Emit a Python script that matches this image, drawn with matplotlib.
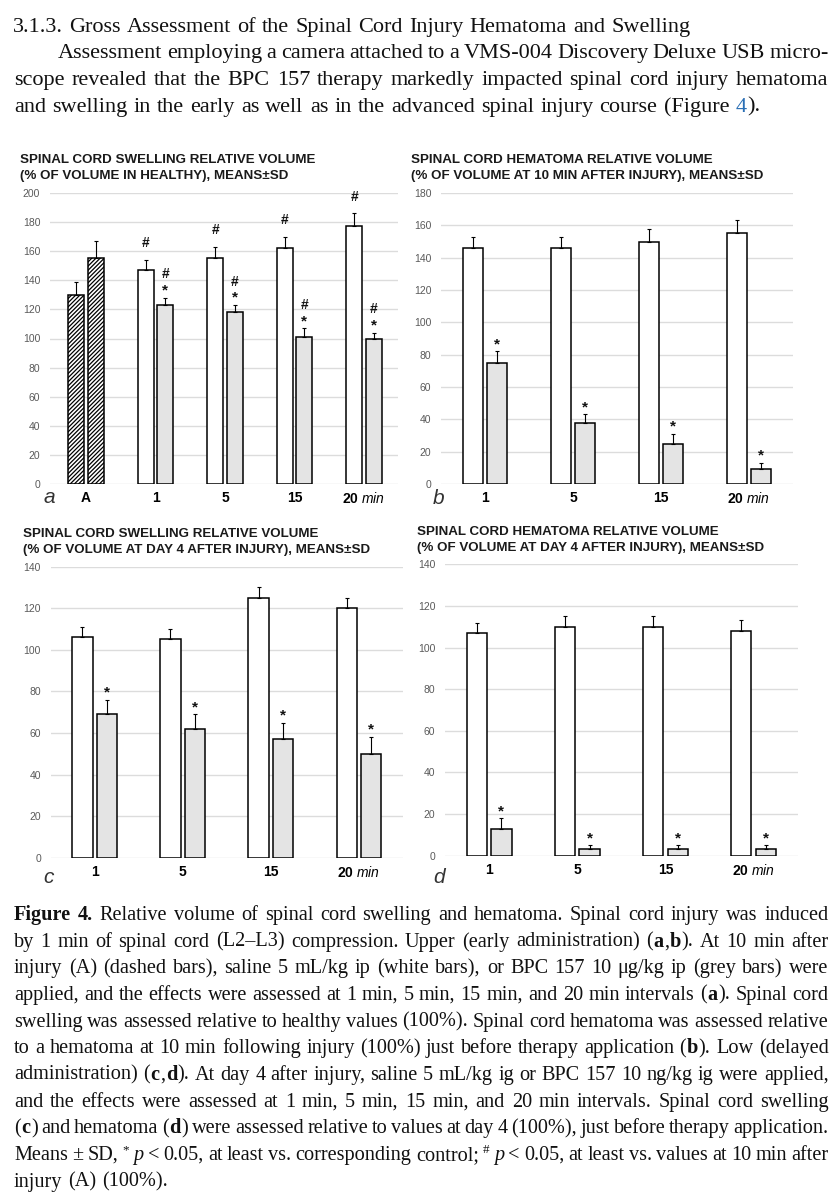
import matplotlib.pyplot as plt
import numpy as np

plt.rcParams['font.family'] = ['Liberation Sans', 'DejaVu Sans']
plt.rcParams['mathtext.fontset'] = 'custom'
plt.rcParams['mathtext.rm'] = 'Liberation Sans'
plt.rcParams['mathtext.it'] = 'Liberation Sans:italic'
plt.rcParams['hatch.linewidth'] = 0.9

W, H = 839, 1200

# ---- data ----
times = ['1', '5', '15', '20 $\\mathit{min}$']

# a: swelling, early administration (% of healthy)
a_injury = [130, 155]
a_injury_sd = [9, 12]
a_saline = [147, 155, 162, 177]
a_saline_sd = [7, 8, 8, 9]
a_bpc = [123, 118, 101, 100]
a_bpc_sd = [5, 5, 6, 4]

# b: hematoma, early administration (% of 10 min after injury)
b_saline = [146, 146, 150, 155]
b_saline_sd = [7, 7, 8, 8]
b_bpc = [75, 38, 25, 9]
b_bpc_sd = [7, 5, 6, 4]

# c: swelling, delayed administration (% of day 4)
c_saline = [106, 105, 125, 120]
c_saline_sd = [5, 5, 5, 5]
c_bpc = [69, 62, 57, 50]
c_bpc_sd = [7, 7, 8, 8]

# d: hematoma, delayed administration (% of day 4)
d_saline = [107, 110, 110, 108]
d_saline_sd = [5, 5, 5, 5]
d_bpc = [13, 3, 3, 3]
d_bpc_sd = [5, 2, 2, 2]

heading = [("3.1.3. Gross Assessment of the Spinal Cord Injury Hematoma and Swelling", '')]
para = [
    [("Assessment employing a camera attached to a VMS-004 Discovery Deluxe USB micro-", '')],
    [("scope revealed that the BPC 157 therapy markedly impacted spinal cord injury hematoma", '')],
    [("and swelling in the early as well as in the advanced spinal injury course (Figure ", ''),
     ("4", 'blue'), (").", '')],
]
caption = [
    [("Figure 4.", 'b'), (" Relative volume of spinal cord swelling and hematoma. Spinal cord injury was induced", '')],
    [("by 1 min of spinal cord (L2–L3) compression. Upper (early administration) (", ''), ("a", 'b'),
     (",", ''), ("b", 'b'), ("). At 10 min after", '')],
    [("injury (A) (dashed bars), saline 5 mL/kg ip (white bars), or BPC 157 10 μg/kg ip (grey bars) were", '')],
    [("applied, and the effects were assessed at 1 min, 5 min, 15 min, and 20 min intervals (", ''),
     ("a", 'b'), ("). Spinal cord", '')],
    [("swelling was assessed relative to healthy values (100%). Spinal cord hematoma was assessed relative", '')],
    [("to a hematoma at 10 min following injury (100%) just before therapy application (", ''),
     ("b", 'b'), ("). Low (delayed", '')],
    [("administration) (", ''), ("c", 'b'), (",", ''), ("d", 'b'),
     ("). At day 4 after injury, saline 5 mL/kg ig or BPC 157 10 ng/kg ig were applied,", '')],
    [("and the effects were assessed at 1 min, 5 min, 15 min, and 20 min intervals. Spinal cord swelling", '')],
    [("(", ''), ("c", 'b'), (") and hematoma (", ''), ("d", 'b'),
     (") were assessed relative to values at day 4 (100%), just before therapy application.", '')],
    [("Means ± SD, ", ''), ("*", 'sup'), (" ", ''), ("p", 'i'),
     (" < 0.05, at least vs. corresponding control; ", ''), ("#", 'sup'), (" ", ''), ("p", 'i'),
     (" < 0.05, at least vs. values at 10 min after", '')],
    [("injury (A) (100%).", '')],
]

SERIF = 'Liberation Serif'


def style_kw(st, size):
    kw = dict(family=SERIF, fontsize=size, color='#111111', va='baseline', ha='left')
    if st == 'b':
        kw['fontweight'] = 'bold'
    elif st == 'i':
        kw['fontstyle'] = 'italic'
    elif st == 'blue':
        kw['color'] = '#2a6fb5'
    elif st == 'sup':
        kw['fontsize'] = size * 0.65
    return kw


def draw_line(fig, rend, runs, x0, y, x1=None, size=15):
    # split runs into words, justify if x1 given
    words = [[]]
    for txt, st in runs:
        for k, part in enumerate(txt.split(' ')):
            if k > 0:
                words.append([])
            if part:
                words[-1].append((part, st))
    words = [w for w in words if w]
    placed, widths = [], []
    for w in words:
        items, wsum = [], 0
        for part, st in w:
            t = fig.text(0, 0, part, **style_kw(st, size))
            items.append((t, wsum, st))
            wsum += t.get_window_extent(rend).width + 0.6
        placed.append(items)
        widths.append(wsum)
    if x1 is not None and len(words) > 1:
        gap = (x1 - x0 - sum(widths)) / (len(words) - 1)
    else:
        gap = 0.25 * size * 100 / 72
    x = x0
    for items, wsum in zip(placed, widths):
        for t, dx, st in items:
            yy = y - (7 if st == 'sup' else 0)
            t.set_position(((x + dx) / W, 1 - yy / H))
        x += wsum + gap


def px_axes(fig, left, right, top, bottom):
    return fig.add_axes([left / W, 1 - bottom / H, (right - left) / W, (bottom - top) / H])


def style_panel(ax, ymax):
    ax.set_ylim(0, ymax)
    ax.set_yticks(np.arange(0, ymax + 1, 20))
    ax.grid(axis='y', color='#dcdcdc', lw=1)
    ax.set_axisbelow(True)
    for s in ax.spines.values():
        s.set_visible(False)
    ax.tick_params(axis='y', length=0, pad=7, labelsize=7.5, labelcolor='#5a5a5a')
    ax.tick_params(axis='x', length=0, pad=5, labelsize=10, labelcolor='black')


def set_times(ax, pos, labels):
    ax.set_xticks(pos)
    ax.set_xticklabels(labels, fontweight='bold')


BW, OFF = 0.23, 0.14
ERR = dict(ecolor='black', elinewidth=0.8, capsize=1.2, capthick=0.8)


def pair_bars(ax, x, saline, saline_sd, bpc, bpc_sd):
    zeros = np.zeros(len(x))
    ax.bar(x - OFF, saline, BW, color='white', edgecolor='black', lw=1.1,
           yerr=[zeros, saline_sd], error_kw=ERR)
    ax.bar(x + OFF, bpc, BW, color='#e4e4e4', edgecolor='black', lw=1.1,
           yerr=[zeros, bpc_sd], error_kw=ERR)


def mark(ax, x, top, sym, up):
    size = 11 if sym == '*' else 10
    ax.annotate(sym, (x, top), xytext=(0, up), textcoords='offset points',
                ha='center', va='baseline', fontsize=size, fontweight='bold', color='#111111')


def title(fig, x, y, lines):
    for k, line in enumerate(lines):
        fig.text(x / W, 1 - (y + 16 * k) / H, line, fontsize=9.6, fontweight='bold',
                 color='#1a1a1a', va='baseline', ha='left')


def letter(fig, x, y, s):
    fig.text(x / W, 1 - y / H, s, fontsize=15, fontstyle='italic', color='#333333',
             va='baseline', ha='left')


fig = plt.figure(figsize=(W / 100, H / 100), dpi=100)
rend = fig.canvas.get_renderer()

# page text
draw_line(fig, rend, heading, 13, 31.7, size=16)
draw_line(fig, rend, para[0], 58, 58.3, 829, size=16)
draw_line(fig, rend, para[1], 14, 85, 829, size=16)
draw_line(fig, rend, para[2], 14, 111.7, size=16)
for k, runs in enumerate(caption):
    last = k == len(caption) - 1
    draw_line(fig, rend, runs, 14, 920 + 26.65 * k, None if last else 829, size=14.6)

# panel a
ax = px_axes(fig, 50, 398, 193, 484)
style_panel(ax, 200)
ax.set_xlim(-0.52, 4.49)
ax.bar(np.array([-OFF, OFF]), a_injury, BW, color='white', edgecolor='black', lw=1.1,
       hatch='////////', yerr=[[0, 0], a_injury_sd], error_kw=ERR)
xa = np.arange(1, 5)
pair_bars(ax, xa, a_saline, a_saline_sd, a_bpc, a_bpc_sd)
for i in range(4):
    mark(ax, xa[i] - OFF, a_saline[i] + a_saline_sd[i], '#', 9)
    mark(ax, xa[i] + OFF, a_bpc[i] + a_bpc_sd[i], '*', 2.3)
    mark(ax, xa[i] + OFF, a_bpc[i] + a_bpc_sd[i], '#', 14)
set_times(ax, np.arange(5), ['A'] + times)
title(fig, 20, 163, ["SPINAL CORD SWELLING RELATIVE VOLUME", "(% OF VOLUME IN HEALTHY), MEANS±SD"])
letter(fig, 44, 503, 'a')

# panel b
ax = px_axes(fig, 441, 793, 193, 484)
style_panel(ax, 180)
ax.set_xlim(-0.5, 3.5)
xb = np.arange(4)
pair_bars(ax, xb, b_saline, b_saline_sd, b_bpc, b_bpc_sd)
for i in range(4):
    mark(ax, xb[i] + OFF, b_bpc[i] + b_bpc_sd[i], '*', 2.3)
set_times(ax, xb, times)
title(fig, 411, 163, ["SPINAL CORD HEMATOMA RELATIVE VOLUME",
                      "(% OF VOLUME AT 10 MIN AFTER INJURY), MEANS±SD"])
letter(fig, 433, 504, 'b')

# panel c
ax = px_axes(fig, 50.7, 403, 566.7, 857.7)
style_panel(ax, 140)
ax.set_xlim(-0.5, 3.5)
pair_bars(ax, xb, c_saline, c_saline_sd, c_bpc, c_bpc_sd)
for i in range(4):
    mark(ax, xb[i] + OFF, c_bpc[i] + c_bpc_sd[i], '*', 2.3)
set_times(ax, xb, times)
title(fig, 22.7, 536.7, ["SPINAL CORD SWELLING RELATIVE VOLUME",
                         "(% OF VOLUME AT DAY 4 AFTER INJURY), MEANS±SD"])
letter(fig, 43, 882.7, 'c')

# panel d
ax = px_axes(fig, 445, 797.7, 564.3, 855.7)
style_panel(ax, 140)
ax.set_xlim(-0.5, 3.5)
pair_bars(ax, xb, d_saline, d_saline_sd, d_bpc, d_bpc_sd)
for i in range(4):
    mark(ax, xb[i] + OFF, d_bpc[i] + d_bpc_sd[i], '*', 2.3)
set_times(ax, xb, times)
title(fig, 417, 535, ["SPINAL CORD HEMATOMA RELATIVE VOLUME",
                      "(% OF VOLUME AT DAY 4 AFTER INJURY), MEANS±SD"])
letter(fig, 433, 883, 'd')

fig.savefig('out.png', dpi=100, facecolor='white')
